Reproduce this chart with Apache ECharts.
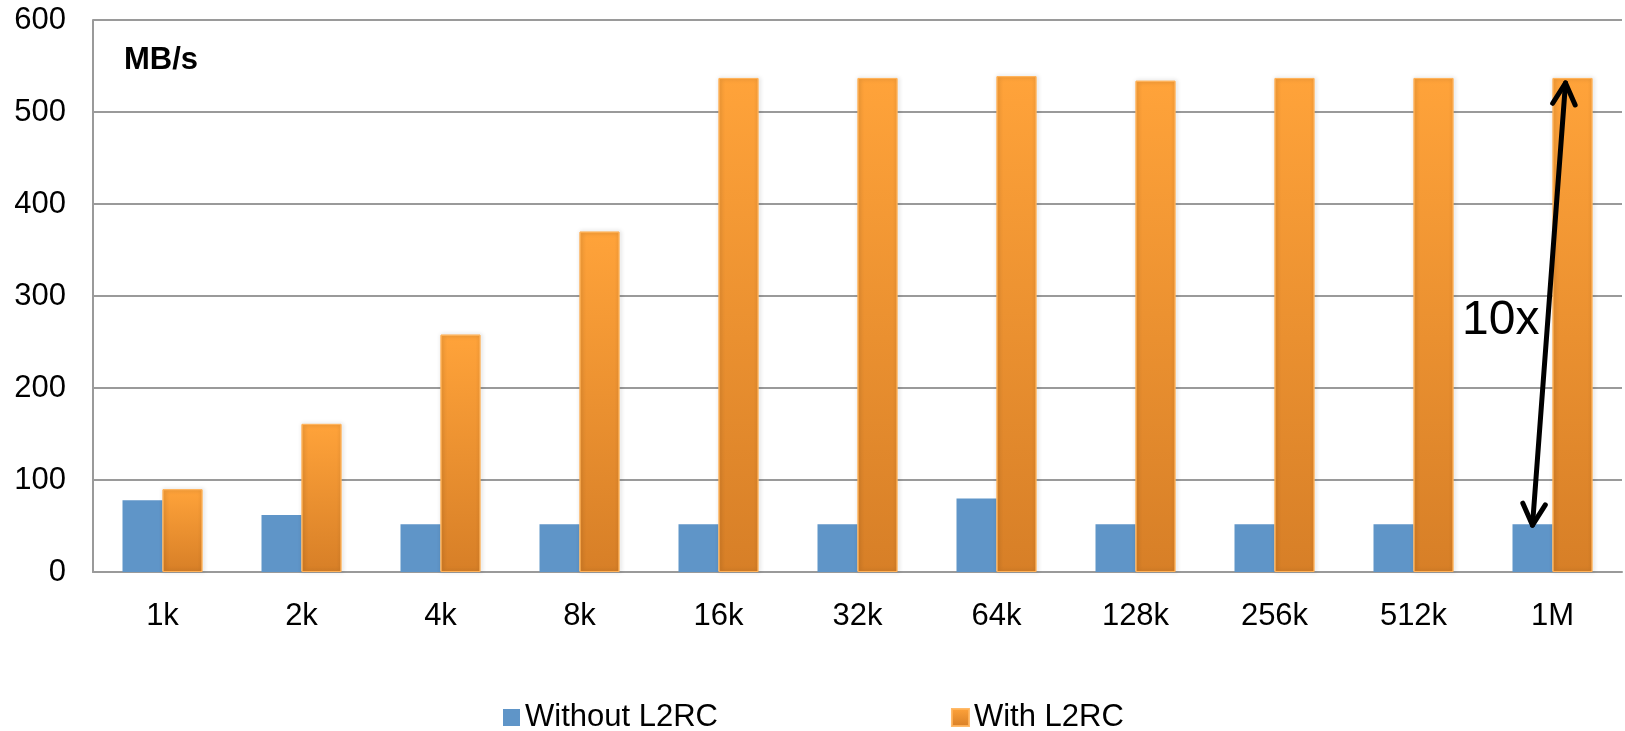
<!DOCTYPE html>
<html>
<head>
<meta charset="utf-8">
<script src="https://cdn.jsdelivr.net/npm/echarts@6/dist/echarts.min.js"></script>
<style>
  html, body { margin: 0; padding: 0; background: #fff; }
  #chart { width: 1625px; height: 731px; }
</style>
</head>
<body>
<div id="chart"></div>
<script>
// Block sizes tested
const categories = ['1k', '2k', '4k', '8k', '16k', '32k', '64k', '128k', '256k', '512k', '1M'];
// Throughput in MB/s
const withoutL2RC = [78, 62, 52, 52, 52, 52, 80, 52, 52, 52, 52];
const withL2RC = [90, 161, 258, 370, 537, 537, 539, 534, 537, 537, 537];
const seriesNames = ['Without L2RC', 'With L2RC'];
const yTicks = { min: 0, max: 600, step: 100 };

const FONT = '"Liberation Sans", Arial, Helvetica, sans-serif';
const BAR_W = 40;

const chart = echarts.init(document.getElementById('chart'), null, { renderer: 'canvas' });

const orangeFill = new echarts.graphic.LinearGradient(0, 0, 0, 1, [
  { offset: 0, color: '#FFA33A' },
  { offset: 1, color: '#D77F27' }
]);

chart.setOption({
  animation: false,
  backgroundColor: '#ffffff',
  grid: { left: 93, right: 3, top: 20, bottom: 159 },
  legend: {
    data: seriesNames,
    left: 498,
    top: 697,
    itemWidth: 17,
    itemHeight: 17,
    itemGap: 233,
    icon: 'rect',
    textStyle: { fontFamily: FONT, fontSize: 31, color: '#000' }
  },
  xAxis: {
    type: 'category',
    data: categories,
    axisLine: { lineStyle: { color: '#9a9a9a', width: 2 } },
    axisTick: { show: false },
    axisLabel: { fontFamily: FONT, fontSize: 31, color: '#000', margin: 29 }
  },
  yAxis: {
    type: 'value',
    min: yTicks.min,
    max: yTicks.max,
    interval: yTicks.step,
    axisLine: { show: true, lineStyle: { color: '#9a9a9a', width: 2 } },
    axisTick: { show: false },
    splitLine: { lineStyle: { color: '#9a9a9a', width: 2 } },
    axisLabel: { fontFamily: FONT, fontSize: 31, color: '#000', margin: 27 }
  },
  series: [
    {
      name: seriesNames[0],
      type: 'bar',
      data: withoutL2RC,
      barWidth: BAR_W,
      barGap: '0%',
      itemStyle: { color: '#5F95C8' }
    },
    {
      name: seriesNames[1],
      type: 'bar',
      data: withL2RC,
      barWidth: BAR_W,
      itemStyle: {
        color: orangeFill,
        borderColor: 'rgba(255,178,90,0.9)',
        borderWidth: 1,
        shadowColor: 'rgba(0,0,0,0.28)',
        shadowBlur: 4,
        shadowOffsetX: 1
      }
    }
  ]
});

// Double-headed arrow on the last group, from the blue bar top to the orange bar top
const last = categories.length - 1;
const lowPt = chart.convertToPixel({ gridIndex: 0 }, [categories[last], withoutL2RC[last]]);
const highPt = chart.convertToPixel({ gridIndex: 0 }, [categories[last], withL2RC[last]]);
const p0 = [lowPt[0] - BAR_W / 2, lowPt[1] + 1];
const p1 = [highPt[0] + 13, highPt[1] + 5];

function head(tip, from) {
  const dx = from[0] - tip[0], dy = from[1] - tip[1];
  const len = Math.hypot(dx, dy);
  const ux = dx / len, uy = dy / len;
  const a = 28 * Math.PI / 180, L = 24;
  const r1 = [ux * Math.cos(a) - uy * Math.sin(a), ux * Math.sin(a) + uy * Math.cos(a)];
  const r2 = [ux * Math.cos(-a) - uy * Math.sin(-a), ux * Math.sin(-a) + uy * Math.cos(-a)];
  return [
    [tip[0] + r1[0] * L, tip[1] + r1[1] * L],
    tip,
    [tip[0] + r2[0] * L, tip[1] + r2[1] * L]
  ];
}

const arrowStyle = { stroke: '#000', lineWidth: 5, lineCap: 'round', lineJoin: 'round', fill: null };

chart.setOption({
  graphic: [
    {
      type: 'text',
      left: 124,
      top: 45,
      style: { text: 'MB/s', font: 'bold 31px ' + FONT, fill: '#000' }
    },
    {
      type: 'text',
      left: 1462,
      top: 297,
      z: 10,
      style: { text: '10x', font: '48px ' + FONT, fill: '#000' }
    },
    {
      type: 'line',
      z: 10,
      shape: { x1: p0[0], y1: p0[1], x2: p1[0], y2: p1[1] },
      style: arrowStyle
    },
    {
      type: 'polyline',
      z: 10,
      shape: { points: head(p0, p1) },
      style: arrowStyle
    },
    {
      type: 'polyline',
      z: 10,
      shape: { points: head(p1, p0) },
      style: arrowStyle
    }
  ]
});
</script>
</body>
</html>
